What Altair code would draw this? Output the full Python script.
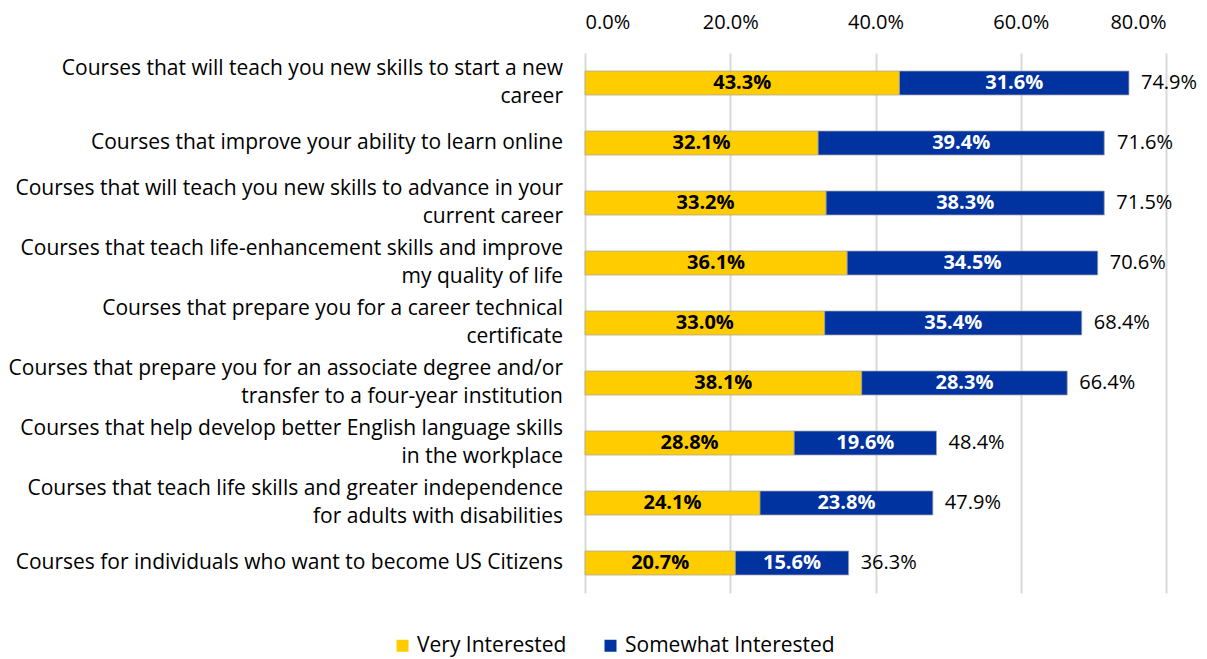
import altair as alt
import pandas as pd

categories = [
    "Courses that will teach you new skills to start a new|career",
    "Courses that improve your ability to learn online",
    "Courses that will teach you new skills to advance in your|current career",
    "Courses that teach life-enhancement skills and improve|my quality of life",
    "Courses that prepare you for a career technical|certificate",
    "Courses that prepare you for an associate degree and/or|transfer to a four-year institution",
    "Courses that help develop better English language skills|in the workplace",
    "Courses that teach life skills and greater independence|for adults with disabilities",
    "Courses for individuals who want to become US Citizens",
]
very = [43.3, 32.1, 33.2, 36.1, 33.0, 38.1, 28.8, 24.1, 20.7]
somewhat = [31.6, 39.4, 38.3, 34.5, 35.4, 28.3, 19.6, 23.8, 15.6]
totals = [74.9, 71.6, 71.5, 70.6, 68.4, 66.4, 48.4, 47.9, 36.3]
series = ["Very Interested", "Somewhat Interested"]
colors = ["#FFCC00", "#0033A0"]
label_colors = ["black", "white"]

FONT = "Open Sans"
FS_CAT = 21
FS_NUM = 20
FS_BAR = 20
HALF_LINE = 14

rows = []
for c, v, s in zip(categories, very, somewhat):
    rows.append({"cat": c, "series": series[0], "start": 0.0, "end": v / 100,
                 "mid": v / 200, "val": v, "lc": label_colors[0]})
    rows.append({"cat": c, "series": series[1], "start": v / 100, "end": (v + s) / 100,
                 "mid": (v + s / 2) / 100, "val": s, "lc": label_colors[1]})
df = pd.DataFrame(rows)
df["txt"] = df["val"].map(lambda x: f"{x:.1f}%")

tot = pd.DataFrame({"cat": categories, "total": [t / 100 for t in totals]})
tot["txt"] = [f"{t:.1f}%" for t in totals]

lab_rows = []
for c in categories:
    parts = c.split("|")
    n = len(parts)
    for i, p in enumerate(parts):
        kind = "single" if n == 1 else ("first" if i == 0 else "second")
        lab_rows.append({"cat": c, "line": p, "kind": kind})
labs = pd.DataFrame(lab_rows)

y_enc = alt.Y("cat:N", sort=categories, title=None,
              scale=alt.Scale(paddingInner=0.6, paddingOuter=0.3),
              axis=None)

bars = alt.Chart(df).mark_bar(stroke="#A6A6A6", strokeWidth=0.75).encode(
    x=alt.X("start:Q", title=None,
            scale=alt.Scale(domain=[0, 0.8], nice=False),
            axis=alt.Axis(orient="top", format=".1%", values=[0, 0.2, 0.4, 0.6, 0.8],
                          labelFontSize=FS_NUM, labelFont=FONT, labelColor="black",
                          labelPadding=21, domain=False, ticks=False,
                          gridColor="#D9D9D9", gridWidth=2)),
    x2="end:Q",
    y=y_enc,
    color=alt.Color("series:N", sort=series,
                    scale=alt.Scale(domain=series, range=colors),
                    legend=alt.Legend(title=None, orient="none", direction="horizontal",
                                      legendX=-193, legendY=582, symbolType="square",
                                      symbolSize=144, symbolStrokeWidth=0,
                                      labelFontSize=FS_CAT, labelFont=FONT, labelLimit=400,
                                      labelColor="black", columnPadding=33,
                                      labelOffset=4, padding=0)),
)

base_lab = alt.Chart(labs)


def cat_layer(kind, dy):
    return base_lab.transform_filter(alt.datum.kind == kind).mark_text(
        fontSize=FS_CAT, font=FONT, align="right", baseline="middle",
        color="black", dy=dy).encode(
        x=alt.value(-22),
        y=alt.Y("cat:N", sort=categories),
        text="line:N",
    )


cat_single = cat_layer("single", 0)
cat_first = cat_layer("first", -HALF_LINE)
cat_second = cat_layer("second", HALF_LINE)

seg_text = alt.Chart(df).mark_text(fontSize=FS_BAR, fontWeight="bold", font=FONT).encode(
    x="mid:Q",
    y=alt.Y("cat:N", sort=categories),
    text="txt:N",
    color=alt.Color("lc:N", scale=None),
)

tot_text = alt.Chart(tot).mark_text(fontSize=FS_NUM, font=FONT, align="left", dx=12,
                                    color="black").encode(
    x="total:Q",
    y=alt.Y("cat:N", sort=categories),
    text="txt:N",
)

chart = alt.layer(bars, cat_single, cat_first, cat_second, seg_text, tot_text).properties(
    width=581, height=540,
    autosize=alt.AutoSizeParams(type="none"),
    padding={"left": 577, "top": 45, "right": 33, "bottom": 66},
).configure_view(stroke=None).configure_axis(grid=True)

chart.save("out.html", embed_options={"renderer": "svg", "actions": False})
